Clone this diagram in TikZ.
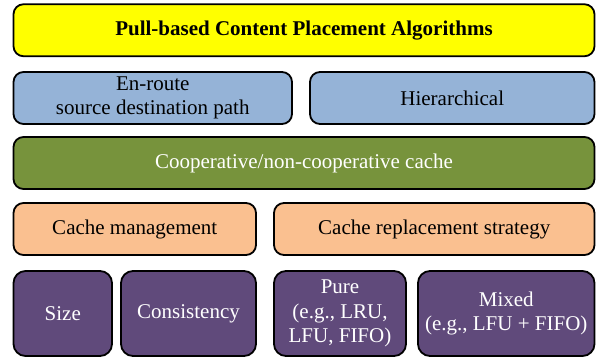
\documentclass[tikz,border=0pt]{standalone}
\usepackage{fontspec}
\setmainfont{Liberation Serif}
\definecolor{titleyellow}{HTML}{FFFF00}
\definecolor{pathblue}{HTML}{95B3D7}
\definecolor{coopgreen}{HTML}{77933C}
\definecolor{mgmtorange}{HTML}{FAC090}
\definecolor{leafpurple}{HTML}{604A7B}
\begin{document}
\begin{tikzpicture}[x=1pt,y=-1pt,
  box/.style={draw=black, line width=1.8pt, rounded corners=10pt,
    align=center, inner sep=2pt,
    font=\fontsize{21}{24.5}\selectfont},
  titlebox/.style={box, fill=titleyellow, font=\fontsize{21}{24.5}\selectfont\bfseries},
  bluebox/.style={box, fill=pathblue},
  greenbox/.style={box, fill=coopgreen, text=white},
  orangebox/.style={box, fill=mgmtorange},
  purplebox/.style={box, fill=leafpurple, text=white, rounded corners=12pt}]
\useasboundingbox (0,0) rectangle (600,359);

\node[titlebox, minimum width=581pt, minimum height=52pt] (title) at (304,30.25)
  {Pull-based Content Placement Algorithms};

\node[bluebox, minimum width=278.5pt, minimum height=52pt] (enroute) at (152.75,98)
  {En-route\\source destination path};
\node[bluebox, minimum width=284.5pt, minimum height=52pt] (hier) at (452.25,98)
  {Hierarchical};

\node[greenbox, minimum width=581pt, minimum height=52pt] (coop) at (304,163)
  {Cooperative/non-cooperative cache};

\node[orangebox, minimum width=242.5pt, minimum height=52pt] (mgmt) at (134.75,229)
  {Cache management};
\node[orangebox, minimum width=320.5pt, minimum height=52pt] (repl) at (434.25,229)
  {Cache replacement strategy};

\node[purplebox, minimum width=98.5pt, minimum height=85pt] (size) at (62.75,313.5)
  {Size};
\node[purplebox, minimum width=135pt, minimum height=85pt] (cons) at (188.5,313.5)
  {Consistency};
\node[purplebox, minimum width=132pt, minimum height=85pt] (pure) at (340,313.5)
  {Pure\\(e.g., LRU,\\LFU, FIFO)};
\node[purplebox, minimum width=176.5pt, minimum height=85pt] (mixed) at (506.25,313.5)
  {Mixed\\(e.g., LFU + FIFO)};
\end{tikzpicture}
\end{document}
